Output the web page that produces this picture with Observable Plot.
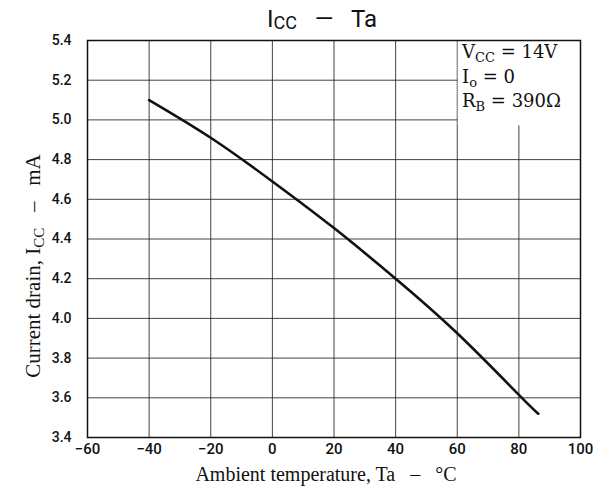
<!DOCTYPE html>
<html><head><meta charset="utf-8">
<script src="https://cdn.jsdelivr.net/npm/d3@7"></script>
<script src="https://cdn.jsdelivr.net/npm/@observablehq/plot@0.6"></script>
<style>body{margin:0;background:#fff} text{white-space:pre}</style>
</head><body><div id="chart"></div>
<script>
// Ambient temperature (°C) and current drain (mA)
const temperature = [-40, -20, 0, 20, 40, 60, 80, 86.3];
const currentDrain = [5.10, 4.91, 4.69, 4.455, 4.20, 3.925, 3.615, 3.52];
const xTicks = [-60, -40, -20, 0, 20, 40, 60, 80, 100];
const yTicks = [3.4, 3.6, 3.8, 4.0, 4.2, 4.4, 4.6, 4.8, 5.0, 5.2, 5.4];

const data = temperature.map((t, i) => ({t, c: currentDrain[i]}));

const plot = Plot.plot({
  width: 604, height: 495,
  marginTop: 40, marginRight: 24, marginBottom: 58, marginLeft: 87,
  style: {background: "white", fontFamily: "Roboto, 'DejaVu Sans', sans-serif", color: "#111"},
  x: {domain: [-60, 100]},
  y: {domain: [3.4, 5.4]},
  marks: [
    Plot.gridX(xTicks, {stroke: "#222", strokeOpacity: 0.85, strokeWidth: 1}),
    Plot.gridY(yTicks, {stroke: "#222", strokeOpacity: 0.85, strokeWidth: 1}),
    Plot.rect([0], {x1: 60, x2: 100, y1: 4.97, y2: 5.4, fill: "white", insetLeft: 1}),
    Plot.line(data, {x: "t", y: "c", stroke: "#111", strokeWidth: 2.6, curve: "natural"}),
    Plot.axisX(xTicks, {tickSize: 0, tickPadding: 6, fontSize: 15, fontWeight: 500, label: null,
      tickFormat: d => d < 0 ? "\u2212" + (-d) : String(d)}),
    Plot.axisY(yTicks, {tickSize: 0, tickPadding: 16, fontSize: 14, fontWeight: 500, label: null,
      tickFormat: d3.format(".1f")}),
    Plot.frame({stroke: "#111", strokeWidth: 1.5})
  ]
});

const svg = d3.select(plot);
const serif = "'Liberation Serif', 'Times New Roman', serif";

// Title
const title = svg.append("text").attr("x", 322).attr("y", 27).attr("text-anchor", "middle")
  .style("font-family", "Roboto, sans-serif").style("font-size", "24px").attr("fill", "#111");
title.append("tspan").text("I");
title.append("tspan").attr("dy", 2).style("font-size", "18px").text("CC");
title.append("tspan").attr("dy", -2).text("   \u2014   Ta");

// Conditions
const cond = [
  ["V", "CC", " = 14V"],
  ["I", "o", " = 0"],
  ["R", "B", " = 390\u03A9"]
];
cond.forEach((c, i) => {
  const t = svg.append("text").attr("x", 462).attr("y", 58 + i * 24.5).attr("text-anchor", "start")
    .style("font-family", "'DejaVu Serif', serif").style("font-size", "18px").attr("fill", "#111");
  t.append("tspan").text(c[0]);
  t.append("tspan").attr("dy", 4).style("font-size", "13px").text(c[1]);
  t.append("tspan").attr("dy", -4).text(c[2]);
});

// Y label
const yl = svg.append("text").attr("transform", "translate(40,266) rotate(-90)").attr("text-anchor", "middle")
  .style("font-family", serif).style("font-size", "21px").attr("fill", "#111");
yl.append("tspan").text("Current drain, I");
yl.append("tspan").attr("dy", 4).style("font-size", "15px").text("CC");
yl.append("tspan").attr("dy", -4).text("   \u2013   mA");

// X label
svg.append("text").attr("x", 326).attr("y", 481).attr("text-anchor", "middle")
  .style("font-family", serif).style("font-size", "20px").attr("fill", "#111")
  .text("Ambient temperature, Ta   \u2013   \u00B0C");

document.getElementById("chart").appendChild(plot);
</script>
</body></html>
